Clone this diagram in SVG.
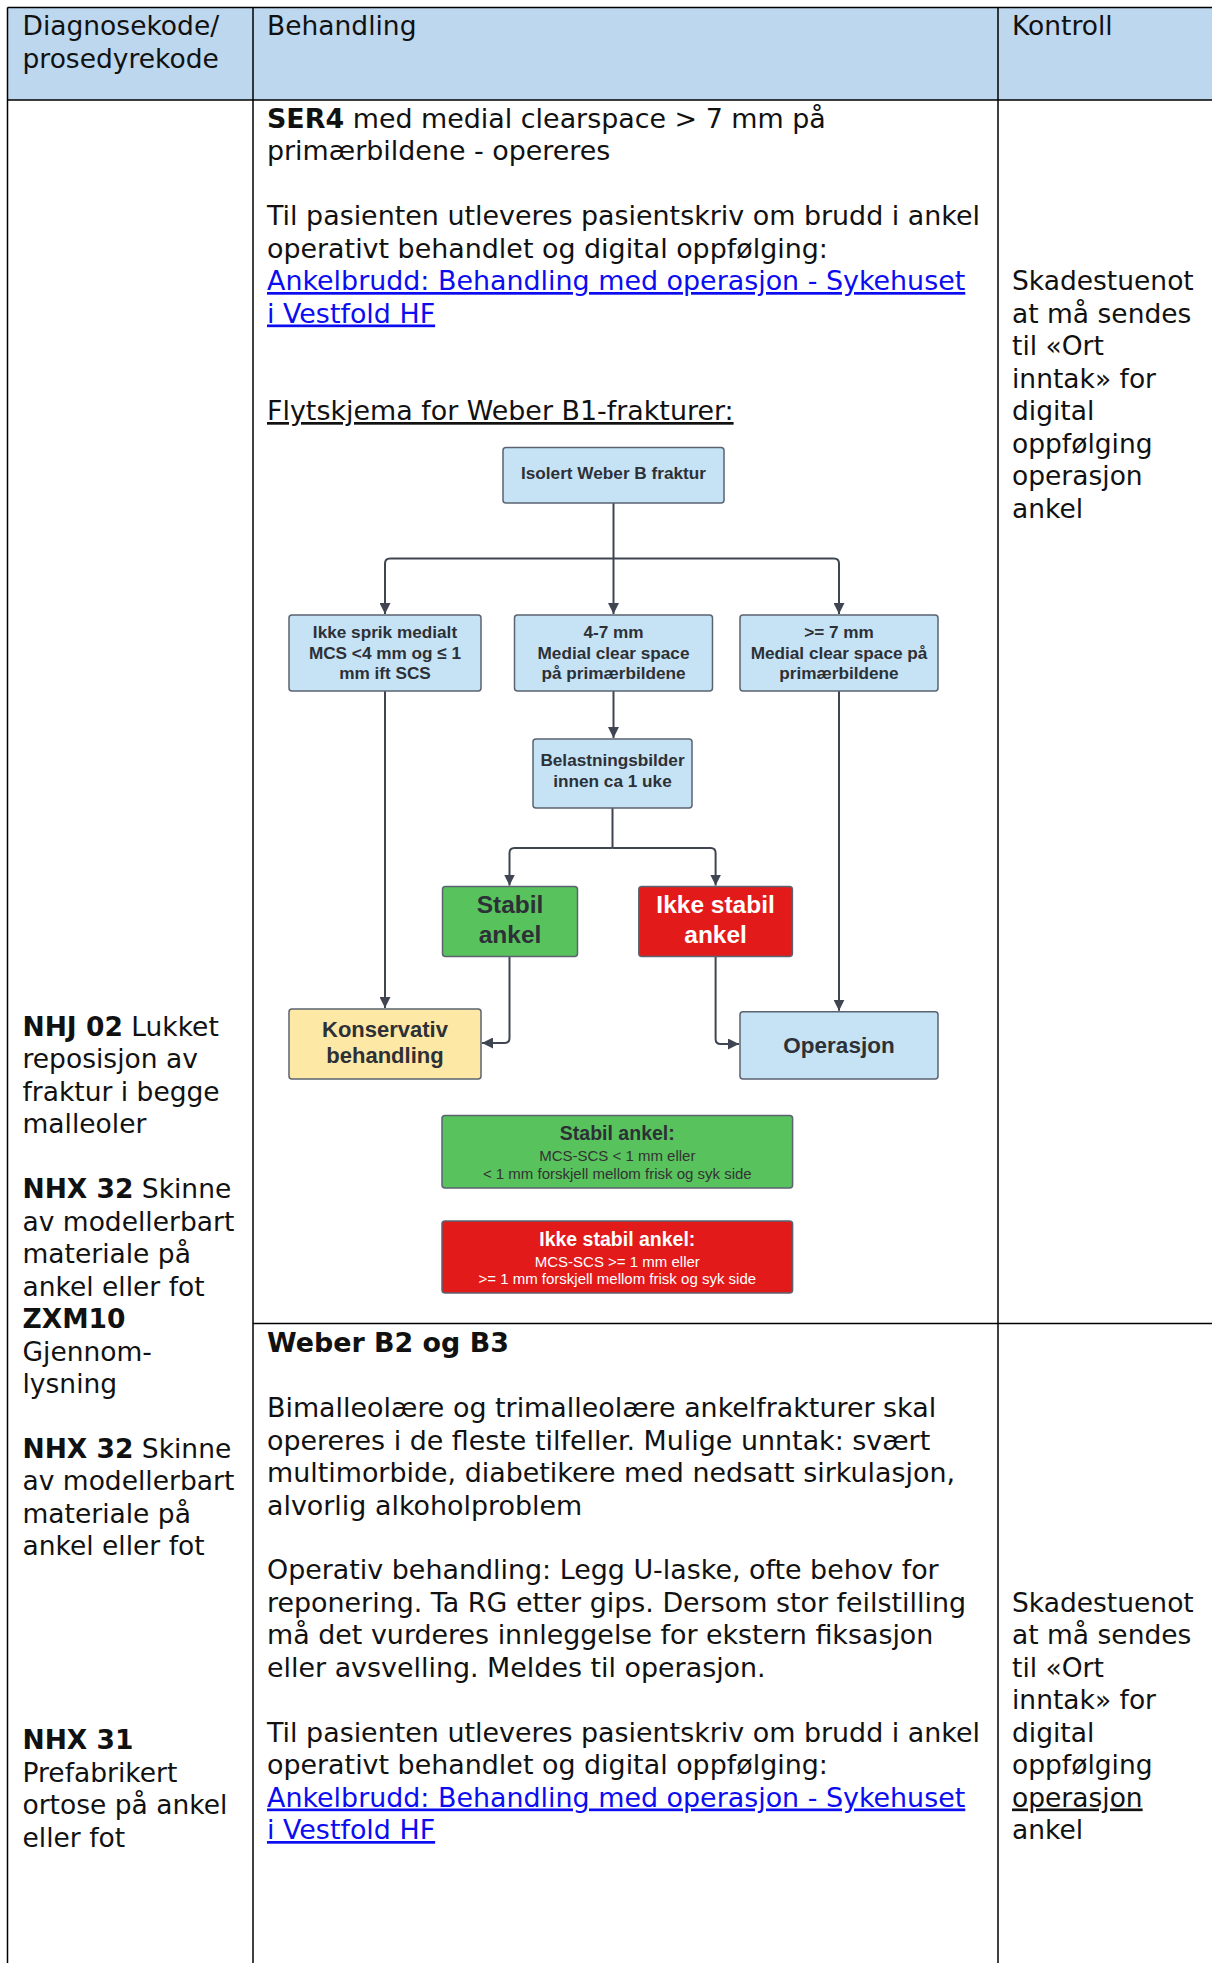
<svg xmlns="http://www.w3.org/2000/svg" width="1212" height="1963" viewBox="0 0 1212 1963">
<defs>
<style>
.t{font-family:"DejaVu Sans","Verdana",sans-serif;font-size:26.5px;fill:#111;}
.m{font-size:26.9px;}
.b{font-weight:bold;}
.lnk{fill:#0c0cf0;text-decoration:underline;}
.u{text-decoration:underline;}
.grid{stroke:#000;stroke-width:1.5;fill:none;}
.box{stroke:#5b6370;stroke-width:1.5;}
.blue{fill:#c5e3f5;}
.yel{fill:#fde8a6;}
.grn{fill:#58c25d;}
.red{fill:#e31a1a;}
.ft{font-family:"Liberation Sans",Arial,sans-serif;font-weight:bold;fill:#2d3036;text-anchor:middle;}
.fs{font-family:"Liberation Sans",Arial,sans-serif;text-anchor:middle;}
.con{stroke:#3f4652;stroke-width:2;fill:none;}
</style>
<marker id="ah" viewBox="0 0 10 10" refX="10" refY="5" markerWidth="11" markerHeight="11" markerUnits="userSpaceOnUse" orient="auto">
<path d="M0,0 L10,5 L0,10 z" fill="#3f4652"/>
</marker>
</defs>
<rect x="0" y="0" width="1212" height="1963" fill="#fff"/>

<g id="table">
<rect x="7.5" y="7.5" width="1205" height="92.5" fill="#bdd7ee"/>
<line class="grid" x1="7.5" y1="7.5" x2="1212" y2="7.5"/>
<line class="grid" x1="7.5" y1="100" x2="1212" y2="100"/>
<line class="grid" x1="7.5" y1="7.5" x2="7.5" y2="1963"/>
<line class="grid" x1="253" y1="7.5" x2="253" y2="1963"/>
<line class="grid" x1="998" y1="7.5" x2="998" y2="1963"/>
<line class="grid" x1="253" y1="1323.5" x2="1212" y2="1323.5"/>
</g>

<g id="header">
<text class="t" x="22.5" y="35">Diagnosekode/</text>
<text class="t" x="22.5" y="67.5">prosedyrekode</text>
<text class="t" x="267" y="35">Behandling</text>
<text class="t" x="1012" y="35">Kontroll</text>
</g>

<g id="col-diagnose">
<text class="t" x="22.5" y="1035.5"><tspan class="b">NHJ 02</tspan> Lukket</text>
<text class="t" x="22.5" y="1068">reposisjon av</text>
<text class="t" x="22.5" y="1100.5">fraktur i begge</text>
<text class="t" x="22.5" y="1133">malleoler</text>
<text class="t" x="22.5" y="1198"><tspan class="b">NHX 32</tspan> Skinne</text>
<text class="t" x="22.5" y="1230.5">av modellerbart</text>
<text class="t" x="22.5" y="1263">materiale på</text>
<text class="t" x="22.5" y="1295.5">ankel eller fot</text>
<text class="t b" x="22.5" y="1328">ZXM10</text>
<text class="t" x="22.5" y="1360.5">Gjennom-</text>
<text class="t" x="22.5" y="1393">lysning</text>
<text class="t" x="22.5" y="1457.5"><tspan class="b">NHX 32</tspan> Skinne</text>
<text class="t" x="22.5" y="1490">av modellerbart</text>
<text class="t" x="22.5" y="1522.5">materiale på</text>
<text class="t" x="22.5" y="1555">ankel eller fot</text>
<text class="t b" x="22.5" y="1749">NHX 31</text>
<text class="t" x="22.5" y="1781.5">Prefabrikert</text>
<text class="t" x="22.5" y="1814">ortose på ankel</text>
<text class="t" x="22.5" y="1846.5">eller fot</text>
</g>

<g id="col-behandling-1">
<text class="t m" x="267" y="127.5"><tspan class="b">SER4</tspan> med medial clearspace &gt; 7 mm på</text>
<text class="t m" x="267" y="160">primærbildene - opereres</text>
<text class="t m" x="267" y="225">Til pasienten utleveres pasientskriv om brudd i ankel</text>
<text class="t m" x="267" y="257.5">operativt behandlet og digital oppfølging:</text>
<text class="t m lnk" x="267" y="290">Ankelbrudd: Behandling med operasjon - Sykehuset</text>
<text class="t m lnk" x="267" y="322.5">i Vestfold HF</text>
<text class="t m u" x="267" y="420">Flytskjema for Weber B1-frakturer:</text>
</g>

<g id="col-behandling-2">
<text class="t m b" x="267" y="1352">Weber B2 og B3</text>
<text class="t m" x="267" y="1417">Bimalleolære og trimalleolære ankelfrakturer skal</text>
<text class="t m" x="267" y="1449.5">opereres i de fleste tilfeller. Mulige unntak: svært</text>
<text class="t m" x="267" y="1482">multimorbide, diabetikere med nedsatt sirkulasjon,</text>
<text class="t m" x="267" y="1514.5">alvorlig alkoholproblem</text>
<text class="t m" x="267" y="1579">Operativ behandling: Legg U-laske, ofte behov for</text>
<text class="t m" x="267" y="1611.5">reponering. Ta RG etter gips. Dersom stor feilstilling</text>
<text class="t m" x="267" y="1644">må det vurderes innleggelse for ekstern fiksasjon</text>
<text class="t m" x="267" y="1676.5">eller avsvelling. Meldes til operasjon.</text>
<text class="t m" x="267" y="1741.5">Til pasienten utleveres pasientskriv om brudd i ankel</text>
<text class="t m" x="267" y="1774">operativt behandlet og digital oppfølging:</text>
<text class="t m lnk" x="267" y="1806.5">Ankelbrudd: Behandling med operasjon - Sykehuset</text>
<text class="t m lnk" x="267" y="1839">i Vestfold HF</text>
</g>

<g id="col-kontroll">
<text class="t" x="1012" y="290">Skadestuenot</text>
<text class="t" x="1012" y="322.5">at må sendes</text>
<text class="t" x="1012" y="355">til «Ort</text>
<text class="t" x="1012" y="387.5">inntak» for</text>
<text class="t" x="1012" y="420">digital</text>
<text class="t" x="1012" y="452.5">oppfølging</text>
<text class="t" x="1012" y="485">operasjon</text>
<text class="t" x="1012" y="517.5">ankel</text>
<text class="t" x="1012" y="1611.5">Skadestuenot</text>
<text class="t" x="1012" y="1644">at må sendes</text>
<text class="t" x="1012" y="1676.5">til «Ort</text>
<text class="t" x="1012" y="1709">inntak» for</text>
<text class="t" x="1012" y="1741.5">digital</text>
<text class="t" x="1012" y="1774">oppfølging</text>
<text class="t u" x="1012" y="1806.5">operasjon</text>
<text class="t" x="1012" y="1839">ankel</text>
</g>

<g id="connectors">
<path class="con" d="M613.5,503 V614" marker-end="url(#ah)"/>
<path class="con" d="M613.5,558.5 H390 Q385,558.5 385,563.5 V614" marker-end="url(#ah)"/>
<path class="con" d="M613.5,558.5 H834 Q839,558.5 839,563.5 V614" marker-end="url(#ah)"/>
<path class="con" d="M613.5,691 V738" marker-end="url(#ah)"/>
<path class="con" d="M612.5,808 V848 M612.5,848 H514.5 Q509.5,848 509.5,853 V885.5" marker-end="url(#ah)"/>
<path class="con" d="M612.5,848 H710.6 Q715.6,848 715.6,853 V885.5" marker-end="url(#ah)"/>
<path class="con" d="M385,691 V1008" marker-end="url(#ah)"/>
<path class="con" d="M509.5,956.6 V1038 Q509.5,1043 504.5,1043 H482" marker-end="url(#ah)"/>
<path class="con" d="M715.6,956.6 V1039 Q715.6,1044 720.6,1044 H739" marker-end="url(#ah)"/>
<path class="con" d="M839,691 V1010.7" marker-end="url(#ah)"/>
</g>

<g id="n-isolert">
<rect class="box blue" x="503" y="447.5" width="221" height="55.5" rx="3"/>
<text class="ft" x="613.5" y="479" font-size="17.2">Isolert Weber B fraktur</text>
</g>
<g id="n-ikke-sprik">
<rect class="box blue" x="289" y="615" width="192" height="76" rx="3"/>
<text class="ft" x="385" y="637.5" font-size="17.2">Ikke sprik medialt</text>
<text class="ft" x="385" y="658.5" font-size="17.2">MCS &lt;4 mm og ≤ 1</text>
<text class="ft" x="385" y="679.3" font-size="17.2">mm ift SCS</text>
</g>
<g id="n-4-7mm">
<rect class="box blue" x="514.5" y="615" width="198" height="76" rx="3"/>
<text class="ft" x="613.5" y="637.5" font-size="17.2">4-7 mm</text>
<text class="ft" x="613.5" y="658.5" font-size="17.2">Medial clear space</text>
<text class="ft" x="613.5" y="679.3" font-size="17.2">på primærbildene</text>
</g>
<g id="n-7mm">
<rect class="box blue" x="740" y="615" width="198" height="76" rx="3"/>
<text class="ft" x="839" y="637.5" font-size="17.2">&gt;= 7 mm</text>
<text class="ft" x="839" y="658.5" font-size="17.2">Medial clear space på</text>
<text class="ft" x="839" y="679.3" font-size="17.2">primærbildene</text>
</g>
<g id="n-belastning">
<rect class="box blue" x="533" y="739" width="159" height="69" rx="3"/>
<text class="ft" x="612.5" y="766" font-size="17.2">Belastningsbilder</text>
<text class="ft" x="612.5" y="787" font-size="17.2">innen ca 1 uke</text>
</g>
<g id="n-stabil">
<rect class="box grn" x="442.5" y="886.5" width="135" height="70" rx="3"/>
<text class="ft" x="510" y="913" font-size="24.5">Stabil</text>
<text class="ft" x="510" y="943" font-size="24.5">ankel</text>
</g>
<g id="n-ikke-stabil">
<rect class="box red" x="638.8" y="886.5" width="153.6" height="70" rx="3"/>
<text class="ft" x="715.6" y="913" font-size="24.5" style="fill:#fff">Ikke stabil</text>
<text class="ft" x="715.6" y="943" font-size="24.5" style="fill:#fff">ankel</text>
</g>
<g id="n-konservativ">
<rect class="box yel" x="289" y="1009" width="192" height="70" rx="3"/>
<text class="ft" x="385" y="1036.5" font-size="22">Konservativ</text>
<text class="ft" x="385" y="1063" font-size="22">behandling</text>
</g>
<g id="n-operasjon">
<rect class="box blue" x="740" y="1011.7" width="198" height="67.3" rx="3"/>
<text class="ft" x="839" y="1052.5" font-size="22.5">Operasjon</text>
</g>
<g id="legend-stabil">
<rect class="box grn" x="442" y="1115.6" width="350.6" height="72.4" rx="3"/>
<text class="ft" x="617.3" y="1139.5" font-size="19.5">Stabil ankel:</text>
<text class="fs" x="617.3" y="1161" font-size="15" fill="#333">MCS-SCS &lt; 1 mm eller</text>
<text class="fs" x="617.3" y="1178.5" font-size="15" fill="#333">&lt; 1 mm forskjell mellom frisk og syk side</text>
</g>
<g id="legend-ikke-stabil">
<rect class="box red" x="442" y="1221" width="350.6" height="72" rx="3"/>
<text class="ft" x="617.3" y="1246" font-size="19.5" style="fill:#fff">Ikke stabil ankel:</text>
<text class="fs" x="617.3" y="1266.5" font-size="15" fill="#fff">MCS-SCS &gt;= 1 mm eller</text>
<text class="fs" x="617.3" y="1284" font-size="15" fill="#fff">&gt;= 1 mm forskjell mellom frisk og syk side</text>
</g>
</svg>
